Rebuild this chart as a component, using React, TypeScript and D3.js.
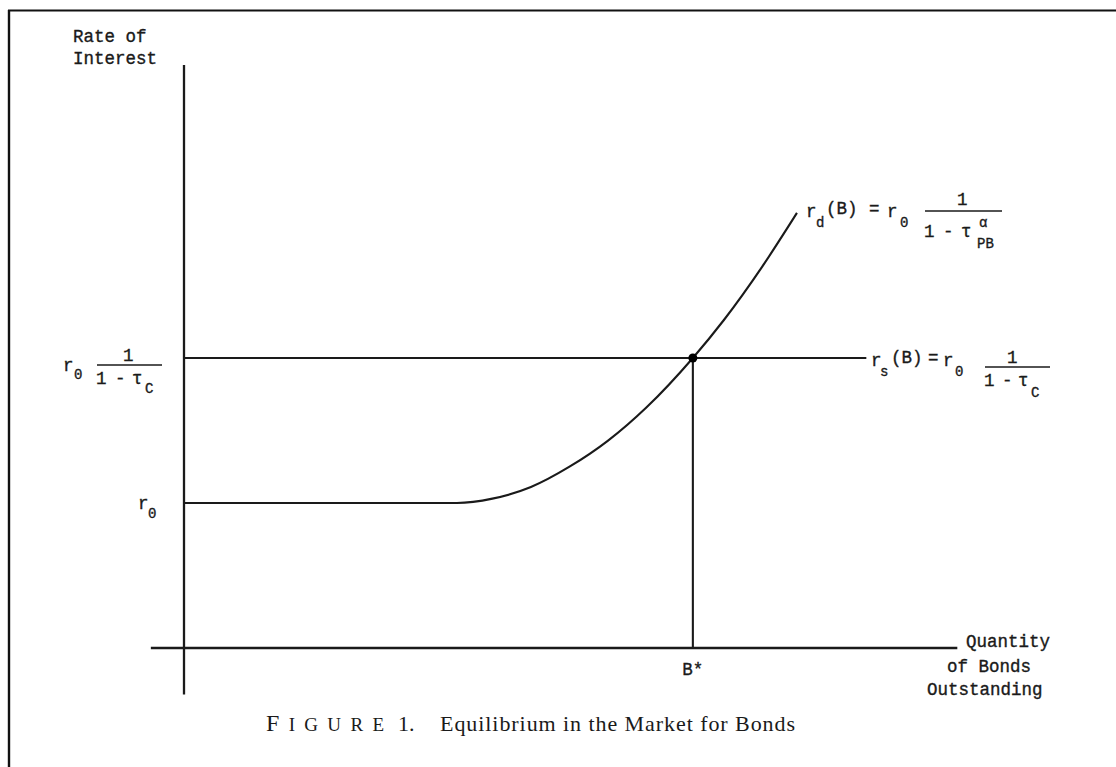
import React from "react";
import * as d3 from "d3";

// Quantity of bonds (B) and demand rate r_d(B), in units of r0
const demandB = [0, 35.4, 40, 45, 50, 55, 60, 66, 70, 75, 79.5];
const demandRate = [1, 1, 1.03, 1.11, 1.25, 1.43, 1.66, 2.0, 2.26, 2.63, 3.0];
// Supply rate r_s(B) = r0 / (1 - tau_C), flat
const supplyB = [0, 88.5];
const supplyRate = [2, 2];
const r0 = 1;
const rS = 2;
const bStar = 66;
const xAxisExtent = [-4.3, 100.3];
const yAxisExtent = [-0.32, 4.02];

const W = 1116;
const H = 767;
const MONO = "'Liberation Mono', 'DejaVu Sans Mono', monospace";
const SERIF = "'Liberation Serif', 'DejaVu Serif', serif";
const INK = "#1a1a1a";

export default function App() {
  const x = d3.scaleLinear().domain([0, 100]).range([184, 955]);
  const y = d3.scaleLinear().domain([0, 4.02]).range([648, 65]);

  const line = d3
    .line<[number, number]>()
    .x((d) => x(d[0]))
    .y((d) => y(d[1]))
    .curve(d3.curveMonotoneX);

  const demandPts = demandB.map((b, i) => [b, demandRate[i]] as [number, number]);
  const supplyPts = supplyB.map((b, i) => [b, supplyRate[i]] as [number, number]);

  const fs = 17.5;
  const sub = 14;
  const t = (props: any, children: any) => (
    <text fontFamily={MONO} fontSize={fs} fill={INK} stroke={INK} strokeWidth={0.35} {...props}>
      {children}
    </text>
  );

  const yS = y(rS);
  const y0 = y(r0);

  return (
    <svg
      width={W}
      height={H}
      viewBox={`0 0 ${W} ${H}`}
      style={{ position: "absolute", left: 0, top: 0, background: "#fff" }}
    >
      <rect x={0} y={0} width={W} height={H} fill="#fff" />
      {/* frame */}
      <line x1={8} y1={10.5} x2={W} y2={10.5} stroke="#111" strokeWidth={2.2} />
      <line x1={9} y1={10} x2={9} y2={H} stroke="#111" strokeWidth={2.4} />

      {/* axes */}
      <line x1={x(0)} y1={y(yAxisExtent[0])} x2={x(0)} y2={y(yAxisExtent[1])} stroke={INK} strokeWidth={2.3} />
      <line x1={x(xAxisExtent[0])} y1={y(0)} x2={x(xAxisExtent[1])} y2={y(0)} stroke={INK} strokeWidth={2.3} />

      {/* supply line */}
      <path d={line(supplyPts) || ""} fill="none" stroke={INK} strokeWidth={2.1} />
      {/* demand curve */}
      <path d={line(demandPts) || ""} fill="none" stroke={INK} strokeWidth={2.1} />
      {/* B* vertical */}
      <line x1={x(bStar)} y1={yS} x2={x(bStar)} y2={y(0)} stroke={INK} strokeWidth={2.1} />
      <circle cx={x(bStar)} cy={yS} r={4.5} fill="#000" />

      {/* y axis title */}
      {t({ x: 73, y: 42 }, "Rate of")}
      {t({ x: 73, y: 64 }, "Interest")}

      {/* x axis title */}
      {t({ x: 966, y: 647 }, "Quantity")}
      {t({ x: 947, y: 672 }, "of Bonds")}
      {t({ x: 927, y: 695 }, "Outstanding")}

      {/* B* */}
      {t({ x: x(bStar), y: 675, textAnchor: "middle" }, "B*")}

      {/* r0 label */}
      {t({ x: 138, y: y0 + 6 }, "r")}
      {t({ x: 148, y: y0 + 15, fontSize: sub }, "0")}

      {/* left fraction label */}
      {t({ x: 63, y: yS + 13 }, "r")}
      {t({ x: 74, y: yS + 21, fontSize: sub }, "0")}
      {t({ x: 123, y: yS + 3 }, "1")}
      <line x1={97} y1={yS + 7} x2={162} y2={yS + 7} stroke={INK} strokeWidth={1.6} />
      {t({ x: 96, y: yS + 26 }, "1")}
      {t({ x: 115, y: yS + 26 }, "-")}
      {t({ x: 132, y: yS + 26 }, "\u03c4")}
      {t({ x: 145, y: yS + 35, fontSize: sub }, "C")}

      {/* r_s label */}
      {t({ x: 871, y: yS + 8 }, "r")}
      {t({ x: 880, y: yS + 18, fontSize: sub }, "s")}
      {t({ x: 891, y: yS + 5 }, "(B)")}
      {t({ x: 928, y: yS + 5 }, "=")}
      {t({ x: 943, y: yS + 8 }, "r")}
      {t({ x: 955, y: yS + 18, fontSize: sub }, "0")}
      {t({ x: 1007, y: yS + 5 }, "1")}
      <line x1={985} y1={yS + 9} x2={1050} y2={yS + 9} stroke={INK} strokeWidth={1.6} />
      {t({ x: 984, y: yS + 28 }, "1")}
      {t({ x: 1002, y: yS + 28 }, "-")}
      {t({ x: 1018, y: yS + 28 }, "\u03c4")}
      {t({ x: 1031, y: yS + 39, fontSize: sub }, "C")}

      {/* r_d label */}
      {t({ x: 806, y: 217 }, "r")}
      {t({ x: 816, y: 227, fontSize: sub }, "d")}
      {t({ x: 826, y: 214 }, "(B)")}
      {t({ x: 869, y: 214 }, "=")}
      {t({ x: 887, y: 217 }, "r")}
      {t({ x: 900, y: 227, fontSize: sub }, "0")}
      {t({ x: 957, y: 205 }, "1")}
      <line x1={925} y1={211} x2={1002} y2={211} stroke={INK} strokeWidth={1.6} />
      {t({ x: 924, y: 237 }, "1")}
      {t({ x: 943, y: 237 }, "-")}
      {t({ x: 961, y: 237 }, "\u03c4")}
      {t({ x: 979, y: 227, fontSize: sub }, "\u03b1")}
      {t({ x: 977, y: 248, fontSize: sub }, "PB")}

      {/* caption */}
      <text x={266} y={731} fontFamily={SERIF} fontSize={24} fill={INK} textLength={118} lengthAdjust="spacing">
        <tspan>F</tspan>
        <tspan fontSize={19}>IGURE</tspan>
      </text>
      <text x={398} y={731} fontFamily={SERIF} fontSize={22} fill={INK}>1.</text>
      <text x={440} y={731} fontFamily={SERIF} fontSize={22} fill={INK} textLength={355} lengthAdjust="spacing">
        Equilibrium in the Market for Bonds
      </text>
    </svg>
  );
}
